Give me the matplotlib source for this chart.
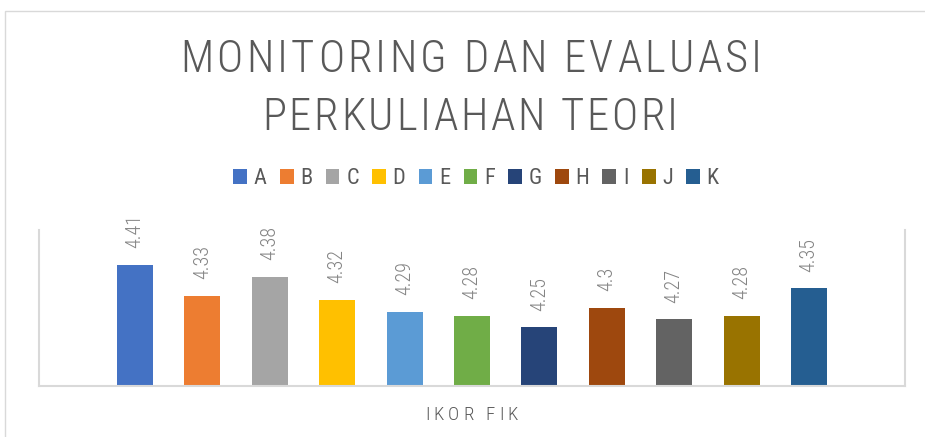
import matplotlib
matplotlib.use("Agg")
import matplotlib.pyplot as plt
from matplotlib.patches import Rectangle

# data
series = ['A', 'B', 'C', 'D', 'E', 'F', 'G', 'H', 'I', 'J', 'K']
values = [4.41, 4.33, 4.38, 4.32, 4.29, 4.28, 4.25, 4.3, 4.27, 4.28, 4.35]
labels = ['4.41', '4.33', '4.38', '4.32', '4.29', '4.28', '4.25', '4.3', '4.27', '4.28', '4.35']
colors = ['#4472C4', '#ED7D31', '#A5A5A5', '#FFC000', '#5B9BD5', '#70AD47',
          '#264478', '#9E480E', '#636363', '#997300', '#255E91']
category = 'IKOR FIK'
title_lines = ['MONITORING DAN EVALUASI', 'PERKULIAHAN TEORI']

plt.rcParams['font.family'] = ['Roboto Condensed', 'DejaVu Sans']
plt.rcParams['font.weight'] = 300

W, H = 925, 437
fig = plt.figure(figsize=(W / 100, H / 100), dpi=100)
renderer = fig.canvas.get_renderer()


def text_width(s, size):
    t = fig.text(0, 0, s, fontsize=size, fontweight=300)
    w = t.get_window_extent(renderer).width
    t.remove()
    return w


def tracked_text(s, x0, x1, baseline, size, color):
    # letter by letter so the text spans x0..x1 px (Excel letter spacing)
    widths = []
    for ch in s:
        if ch == ' ':
            widths.append(text_width('I I', size) - text_width('II', size))
        else:
            widths.append(text_width(ch, size))
    gap = ((x1 - x0) - sum(widths)) / (len(s) - 1)
    x = x0
    for ch, w in zip(s, widths):
        if ch != ' ':
            fig.text(x / W, 1 - baseline / H, ch, fontsize=size, fontweight=300,
                     color=color, ha='left', va='baseline')
        x += w + gap


ax = fig.add_axes([39 / W, 1 - 385.5 / H, (905 - 39) / W, (385.5 - 230) / H])

for i, (s, v, c) in enumerate(zip(series, values, colors)):
    ax.bar(i, v - 4.1, bottom=4.1, width=0.534, color=c, label=s, zorder=2)
    ax.annotate(labels[i], (i, v), xytext=(0, 12), textcoords='offset points',
                rotation=90, ha='center', va='bottom', fontsize=14.5, color='#848484')

ax.set_ylim(4.1, 4.5)
ax.set_xlim(-1.424, 11.424)
ax.set_xticks([])
ax.set_yticks([])
for side in ['left', 'right', 'bottom']:
    ax.spines[side].set_color('#D9D9D9')
    ax.spines[side].set_linewidth(1.5)
ax.spines['top'].set_visible(False)

# title and category label
tracked_text(title_lines[0], 180, 762, 72.5, 32, '#595959')
tracked_text(title_lines[1], 262, 678, 129.5, 32, '#595959')
tracked_text(category, 425, 518, 420, 13.5, '#595959')

# legend
leg = fig.legend(loc='center', bbox_to_anchor=(476 / W, 1 - 179 / H), ncol=11,
                 frameon=False, fontsize=16, handlelength=0.62, handleheight=0.62,
                 handletextpad=0.3, columnspacing=0.6, borderaxespad=0)
for t in leg.get_texts():
    t.set_color('#595959')
    t.set_fontweight(400)

# chart border
fig.patches.append(Rectangle((5 / W, -0.5), 2, 0.5 + 1 - 11 / H, transform=fig.transFigure,
                             fill=False, edgecolor='#D9D9D9', linewidth=1))

fig.savefig('out.png', dpi=100)
